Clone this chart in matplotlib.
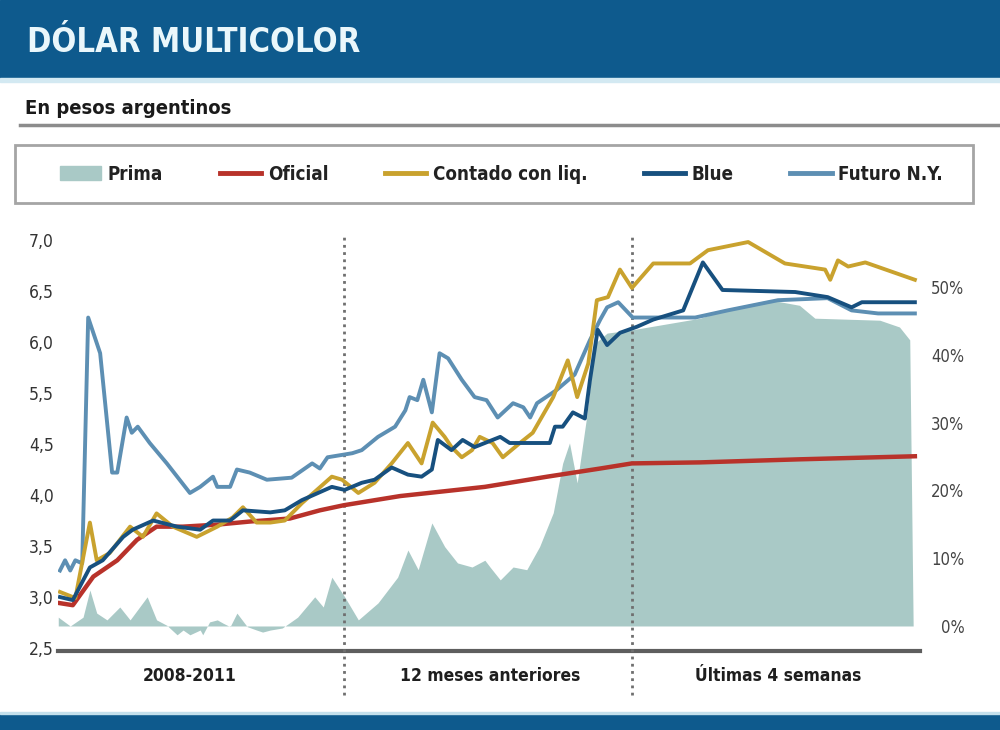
import matplotlib
matplotlib.use('Agg')
import matplotlib.pyplot as plt
from matplotlib.patches import Rectangle, Patch
from matplotlib.lines import Line2D
from matplotlib.transforms import blended_transform_factory

plt.rcParams['font.family'] = ['DejaVu Sans']
plt.rcParams['font.stretch'] = 'condensed'

# ---------------- data ----------------
title = 'DÓLAR MULTICOLOR'
subtitle = 'En pesos argentinos'
sections = ['2008-2011', '12 meses anteriores', 'Últimas 4 semanas']
section_centers = [15.2, 50.3, 84.0]
section_bounds = [33.2, 66.9]

left_ticks = [2.5, 3.0, 3.5, 4.0, 4.5, 5.0, 5.5, 6.0, 6.5]
left_ticklabels = ['2,5', '3,0', '3,5', '4,0', '4,5', '5,5', '6,0', '6,5', '7,0']
right_ticks = [0, 10, 20, 30, 40, 50]
right_ticklabels = ['0%', '10%', '20%', '30%', '40%', '50%']

labels = ['Prima', 'Oficial', 'Contado con liq.', 'Blue', 'Futuro N.Y.']

prima_t = [-0.2, 1.2, 2.7, 3.5, 4.3, 5.5, 7.0, 8.2, 10.2, 11.3, 12.5, 13.7, 14.4, 15.2,
           16.4, 16.7, 17.5, 18.4, 19.1, 19.9, 20.7, 21.9, 23.0, 23.7, 24.6, 26.0, 27.8,
           29.8, 30.8, 31.8, 33.3, 34.9, 37.2, 39.5, 40.7, 41.9, 43.5, 45.0, 46.5, 48.2,
           49.7, 50.3, 51.5, 53.0, 54.6, 56.1, 57.7, 58.8, 59.6, 60.5, 61.6, 62.6, 64.0,
           67.0, 74.9, 78.4, 83.0, 86.5, 88.3, 95.9, 98.2, 99.4, 99.8]
prima_v = [1.3, 0.0, 1.3, 5.3, 1.9, 0.9, 2.8, 0.9, 4.3, 0.9, 0.1, -1.3, -0.6, -1.3,
           -0.6, -1.3, 0.6, 0.9, 0.4, -0.1, 1.9, -0.1, -0.6, -0.9, -0.6, -0.3, 1.3,
           4.3, 2.8, 7.2, 4.3, 0.9, 3.4, 7.2, 11.2, 8.3, 15.2, 11.7, 9.3, 8.7,
           9.7, 8.7, 6.8, 8.7, 8.3, 11.7, 16.7, 24.0, 27.0, 21.1, 30.8, 41.7, 43.2,
           43.7, 45.4, 46.9, 48.1, 47.3, 45.4, 45.1, 44.1, 42.2, 0.0]

oficial_t = [0.0, 1.5, 3.9, 6.7, 9.0, 11.3, 14.4, 18.4, 22.2, 26.9, 30.4, 33.2, 39.8,
             49.7, 57.0, 63.2, 66.9, 74.9, 86.5, 100.0]
oficial_v = [2.94, 2.92, 3.20, 3.36, 3.56, 3.69, 3.69, 3.71, 3.74, 3.77, 3.85, 3.90, 3.99,
             4.08, 4.18, 4.26, 4.31, 4.32, 4.35, 4.38]

contado_t = [0.0, 1.8, 3.5, 4.3, 5.8, 8.2, 9.7, 11.3, 13.2, 16.0, 18.4, 20.2, 21.4, 23.0,
             24.6, 26.3, 28.3, 31.8, 33.0, 34.9, 36.8, 38.8, 40.7, 42.3, 43.6, 45.0, 45.8,
             47.0, 48.2, 49.1, 50.6, 51.8, 53.8, 55.3, 57.7, 59.4, 60.5, 61.8, 62.8, 64.1,
             65.5, 66.9, 69.4, 73.7, 75.8, 80.5, 84.8, 89.5, 90.1, 91.0, 92.2, 94.2, 100.0]
contado_v = [3.05, 2.99, 3.73, 3.36, 3.43, 3.69, 3.59, 3.82, 3.69, 3.59, 3.69, 3.78, 3.88, 3.73,
             3.73, 3.75, 3.92, 4.18, 4.15, 4.02, 4.12, 4.31, 4.51, 4.31, 4.71, 4.57, 4.47,
             4.37, 4.44, 4.57, 4.51, 4.37, 4.51, 4.61, 4.96, 5.32, 4.96, 5.29, 5.91, 5.94,
             6.21, 6.03, 6.27, 6.27, 6.40, 6.48, 6.27, 6.21, 6.11, 6.30, 6.24, 6.28, 6.11]

blue_t = [0.0, 1.5, 3.5, 5.0, 7.4, 8.5, 10.9, 13.7, 16.4, 17.9, 19.9, 21.4, 24.6, 26.3,
          28.3, 31.8, 33.3, 35.3, 36.8, 38.8, 40.7, 42.3, 43.5, 44.2, 45.8, 47.1, 48.5,
          49.7, 51.5, 52.6, 57.3, 57.9, 58.8, 60.0, 61.4, 62.0, 62.9, 64.0, 65.5, 67.5,
          69.4, 72.9, 75.2, 77.5, 86.0, 89.8, 92.6, 93.8, 100.0]
blue_v = [3.00, 2.97, 3.29, 3.36, 3.59, 3.66, 3.75, 3.69, 3.66, 3.75, 3.75, 3.85, 3.83, 3.85,
          3.95, 4.08, 4.05, 4.12, 4.15, 4.27, 4.20, 4.18, 4.25, 4.54, 4.44, 4.54, 4.47,
          4.51, 4.57, 4.51, 4.51, 4.67, 4.67, 4.81, 4.75, 5.13, 5.62, 5.47, 5.59, 5.65,
          5.72, 5.81, 6.28, 6.01, 5.99, 5.94, 5.84, 5.89, 5.89]

futuro_t = [0.0, 0.6, 1.2, 1.8, 2.6, 3.3, 4.7, 6.1, 6.7, 7.8, 8.4, 9.1, 10.5, 12.5, 15.2,
            16.4, 17.9, 18.4, 19.9, 20.7, 22.2, 24.2, 27.1, 29.5, 30.4, 31.3, 34.2, 35.3,
            37.2, 39.2, 40.4, 40.9, 41.8, 42.5, 43.5, 44.4, 45.4, 47.0, 48.5, 49.9, 51.2,
            53.0, 54.2, 55.0, 55.8, 58.1, 60.2, 62.0, 63.2, 64.0, 65.3, 67.0, 74.3, 78.1,
            84.0, 89.8, 92.6, 95.7, 100.0]
futuro_v = [3.26, 3.36, 3.26, 3.36, 3.33, 5.74, 5.39, 4.22, 4.22, 4.76, 4.61, 4.67, 4.51, 4.31, 4.02,
            4.08, 4.18, 4.08, 4.08, 4.25, 4.22, 4.15, 4.17, 4.31, 4.26, 4.37, 4.41, 4.44,
            4.57, 4.67, 4.83, 4.96, 4.93, 5.13, 4.81, 5.39, 5.34, 5.13, 4.96, 4.93, 4.76,
            4.90, 4.86, 4.76, 4.90, 5.03, 5.18, 5.52, 5.72, 5.84, 5.89, 5.74, 5.74, 5.81,
            5.91, 5.93, 5.81, 5.78, 5.78]

# ---------------- styles ----------------
c_header = '#0e5a8d'
c_prima = '#a9c9c6'
c_oficial = '#b8322a'
c_contado = '#c9a22e'
c_blue = '#17507f'
c_futuro = '#5d8fb3'

W, H = 1000, 730
def fx(px):
    return px / W
def fy(py):
    return 1 - py / H

fig = plt.figure(figsize=(10, 7.3), dpi=100)
fig.patch.set_facecolor('white')

# header and footer bands
fig.patches.append(Rectangle((0, fy(78)), 1, 78 / H, color=c_header, transform=fig.transFigure, zorder=0))
fig.patches.append(Rectangle((0, fy(82)), 1, 4 / H, color='#d3e9f2', transform=fig.transFigure, zorder=0))
fig.patches.append(Rectangle((0, 0), 1, 17 / H, color=c_header, transform=fig.transFigure, zorder=0))
fig.patches.append(Rectangle((0, fy(714)), 1, 2 / H, color='#c4e0ec', transform=fig.transFigure, zorder=0))

fig.text(fx(27), fy(43), title, color='#eaf7fb', fontsize=23.5, fontweight='bold',
         ha='left', va='center')
fig.text(fx(25), fy(108), subtitle, color='#1a1a1a', fontsize=14.5, fontweight='bold',
         ha='left', va='center')
fig.lines.append(Line2D([fx(20), 1], [fy(125), fy(125)], color='#8c8c8c', lw=2.5,
                        transform=fig.transFigure))

# legend frame
fig.patches.append(Rectangle((fx(15), fy(203)), fx(973) - fx(15), 58 / H, fill=False,
                             edgecolor='#a5a5a5', lw=2, transform=fig.transFigure, zorder=0))

# axes
ax = fig.add_axes([fx(58), fy(651), fx(920) - fx(58), (651 - 235) / H])
ax.fill_between(prima_t, prima_v, 0, color=c_prima, lw=0, zorder=1)
ax.set_xlim(-0.23, 100.6)
ax.set_ylim(-3.69, 57.67)
ax.set_xticks([])
for s in ['top', 'left', 'right']:
    ax.spines[s].set_visible(False)
ax.spines['bottom'].set_color('#5e5e5e')
ax.spines['bottom'].set_linewidth(3)

ax2 = ax.twinx()
ax2.yaxis.tick_left()
ax2.set_ylim(2.471, 6.549)
ax2.set_yticks(left_ticks)
ax2.set_yticklabels(left_ticklabels)
ax2.tick_params(axis='y', length=0, pad=3, labelsize=12.5, labelcolor='#333333')
for s in ax2.spines.values():
    s.set_visible(False)

# right (percent) axis for the prima area
ax.yaxis.tick_right()
ax.set_yticks(right_ticks)
ax.set_yticklabels(right_ticklabels)
ax.tick_params(axis='y', left=False, labelleft=False, right=True, labelright=True,
               length=0, pad=32, labelsize=12, labelcolor='#444444')
for lb in ax.get_yticklabels():
    lb.set_ha('right')

ax2.plot(futuro_t, futuro_v, color=c_futuro, lw=2.8, solid_joinstyle='round')
ax2.plot(oficial_t, oficial_v, color=c_oficial, lw=3.2, solid_joinstyle='round')
ax2.plot(contado_t, contado_v, color=c_contado, lw=2.8, solid_joinstyle='round')
ax2.plot(blue_t, blue_v, color=c_blue, lw=2.8, solid_joinstyle='round')

# section separators and labels
for b in section_bounds:
    ax2.axvline(b, ymin=-0.106, ymax=1.0, color='#6f6f6f', lw=2,
                linestyle=(0, (1, 1.6)), clip_on=False, zorder=0)
trans = blended_transform_factory(ax2.transData, ax2.transAxes)
for name, cx in zip(sections, section_centers):
    ax2.text(cx, -0.06, name, transform=trans, ha='center', va='center',
             fontsize=12.5, fontweight='bold', color='#1e1e1e')

# legend
handles = [Patch(color=c_prima),
           Line2D([], [], color=c_oficial, lw=3.5),
           Line2D([], [], color=c_contado, lw=3.5),
           Line2D([], [], color=c_blue, lw=3.5),
           Line2D([], [], color=c_futuro, lw=3.5)]
leg = fig.legend(handles, labels, loc='center', ncol=5, mode='expand',
                 bbox_to_anchor=(fx(60), fy(203), fx(943) - fx(60), 58 / H),
                 bbox_transform=fig.transFigure, frameon=False,
                 borderaxespad=0, handlelength=2.2, handleheight=0.8,
                 handletextpad=0.35, borderpad=0,
                 prop={'weight': 'bold', 'size': 13.5})
for t in leg.get_texts():
    t.set_color('#222222')

fig.savefig('out.png', dpi=100, facecolor='white')
